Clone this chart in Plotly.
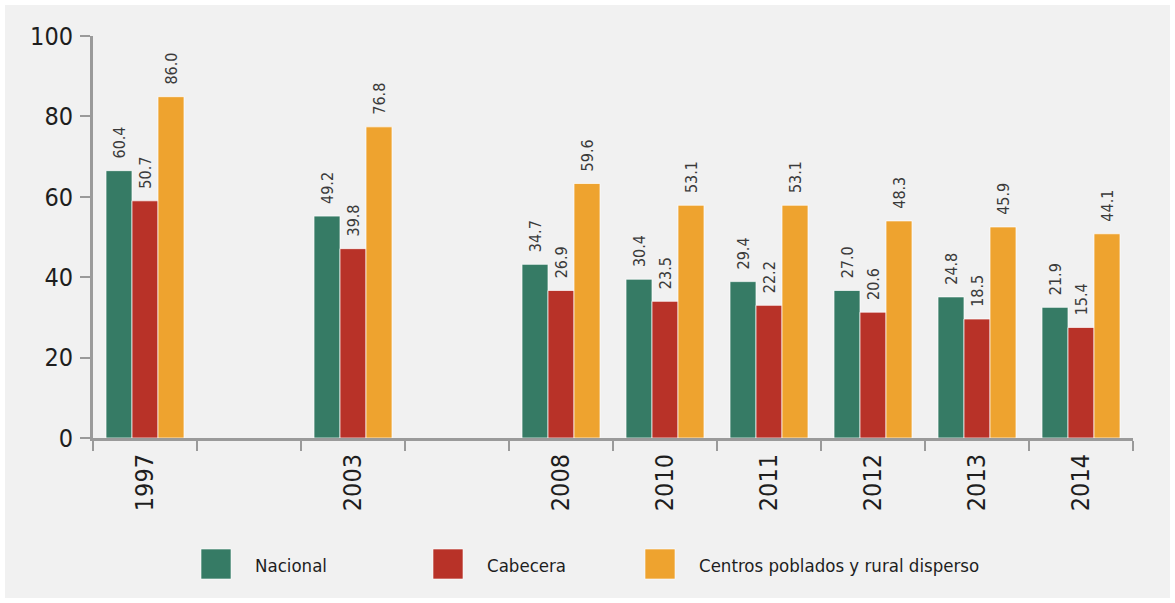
import plotly.graph_objects as go

# ---- data ----
years = ["1997", "2003", "2008", "2010", "2011", "2012", "2013", "2014"]
slots = ["1997", " ", "2003", "  ", "2008", "2010", "2011", "2012", "2013", "2014"]

series_names = ["Nacional", "Cabecera", "Centros poblados y rural disperso"]
# bar heights as drawn in the reference
nacional_h = [66.5, 55.2, 43.2, 39.5, 38.9, 36.7, 35.1, 32.5]
cabecera_h = [59.0, 47.1, 36.7, 34.0, 33.0, 31.3, 29.6, 27.5]
centros_h = [84.9, 77.4, 63.3, 57.9, 57.9, 54.0, 52.5, 50.8]
# printed labels
nacional_lbl = ["60.4", "49.2", "34.7", "30.4", "29.4", "27.0", "24.8", "21.9"]
cabecera_lbl = ["50.7", "39.8", "26.9", "23.5", "22.2", "20.6", "18.5", "15.4"]
centros_lbl = ["86.0", "76.8", "59.6", "53.1", "53.1", "48.3", "45.9", "44.1"]

colors = ["#367b65", "#b83228", "#eea32f"]
y_ticks = [0, 20, 40, 60, 80, 100]

FONT = "DejaVu Sans Condensed, Liberation Sans Narrow, sans-serif"

W, H = 1175, 603
ML, MR, MT, MB = 93, 42, 36, 165
PW, PH = W - ML - MR, H - MT - MB


def px(xp):
    return (xp - ML) / PW


def py(yp):
    return (H - MB - yp) / PH


fig = go.Figure()
for name, h, lbl, c in zip(series_names, [nacional_h, cabecera_h, centros_h],
                           [nacional_lbl, cabecera_lbl, centros_lbl], colors):
    fig.add_trace(go.Bar(
        x=years, y=h, name=name, text=lbl,
        texttemplate="\u00a0\u00a0%{text}",
        textposition="outside", textangle=-90,
        textfont=dict(family=FONT, size=16, color="#3a3a3a"),
        constraintext="none", cliponaxis=False,
        marker=dict(color=c, line=dict(color="rgba(255,255,255,0.7)", width=1)),
        showlegend=False,
    ))

shapes = [dict(type="rect", xref="paper", yref="paper", layer="below",
               x0=px(5), x1=px(1170), y0=py(598), y1=py(5),
               fillcolor="#f1f1f1", line=dict(width=0))]
annotations = []
legend_x = [201, 433, 645]
for name, c, lx in zip(series_names, colors, legend_x):
    shapes.append(dict(type="rect", xref="paper", yref="paper",
                       x0=px(lx), x1=px(lx + 30), y0=py(579), y1=py(549),
                       fillcolor=c, line=dict(color="rgba(255,255,255,0.6)", width=1)))
    annotations.append(dict(xref="paper", yref="paper", x=px(lx + 52), y=py(565),
                            text=name, showarrow=False, xanchor="left", yanchor="middle",
                            font=dict(family=FONT, size=18.5, color="#1e1e1e")))

fig.update_layout(
    width=W, height=H,
    margin=dict(l=ML, r=MR, t=MT, b=MB),
    paper_bgcolor="white", plot_bgcolor="rgba(0,0,0,0)",
    barmode="group", bargap=0.25, bargroupgap=0,
    shapes=shapes, annotations=annotations,
    showlegend=False,
)
fig.update_xaxes(
    type="category", categoryorder="array", categoryarray=slots,
    range=[-0.5, len(slots) - 0.5],
    tickson="boundaries", ticks="outside", ticklen=10, tickwidth=2, tickcolor="#9a9a9a",
    showline=True, linecolor="#9a9a9a", linewidth=3,
    showgrid=False, zeroline=False,
    tickangle=-90, ticklabelstandoff=3,
    tickfont=dict(family=FONT, size=25, color="#1e1e1e"),
)
fig.update_yaxes(
    range=[0, 100], tickvals=y_ticks,
    ticks="outside", ticklen=10, tickwidth=2, tickcolor="#9a9a9a",
    showline=True, linecolor="#9a9a9a", linewidth=3,
    showgrid=False, zeroline=False,
    ticklabelstandoff=2,
    tickfont=dict(family=FONT, size=25, color="#1e1e1e"),
)

fig.write_html("out.html")
